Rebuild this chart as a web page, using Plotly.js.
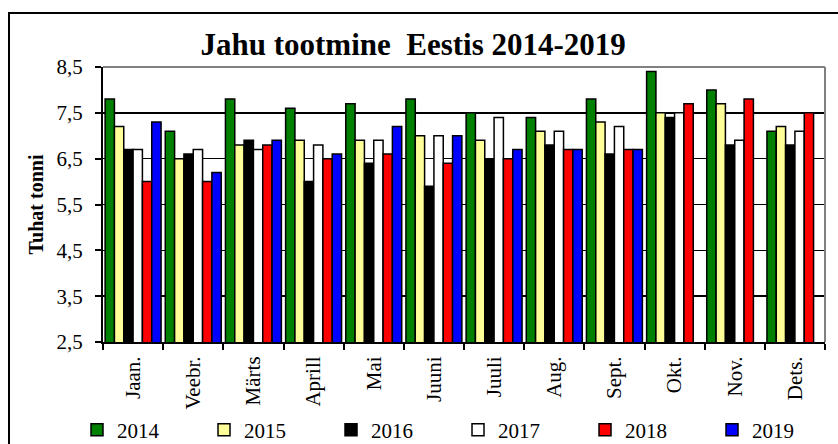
<!DOCTYPE html>
<html><head><meta charset="utf-8">
<script src="https://cdn.plot.ly/plotly-3.0.1.min.js"></script>
<style>
body{margin:0;background:#fff;}
#chart{position:absolute;left:0;top:0;width:838px;height:444px;}
#frame{position:absolute;left:8px;top:12px;width:840px;height:440px;border:2px solid #000;pointer-events:none;}
</style></head>
<body>
<div id="chart"></div>
<div id="frame"></div>
<script>
const months = ["Jaan.","Veebr.","Märts","Aprill","Mai","Juuni","Juuli","Aug.","Sept.","Okt.","Nov.","Dets."];
const years = ["2014","2015","2016","2017","2018","2019"];
const y2014 = [7.8,7.1,7.8,7.6,7.7,7.8,7.5,7.4,7.8,8.4,8.0,7.1];
const y2015 = [7.2,6.5,6.8,6.9,6.9,7.0,6.9,7.1,7.3,7.5,7.7,7.2];
const y2016 = [6.7,6.6,6.9,6.0,6.4,5.9,6.5,6.8,6.6,7.4,6.8,6.8];
const y2017 = [6.7,6.7,6.7,6.8,6.9,7.0,7.4,7.1,7.2,7.5,6.9,7.1];
const y2018 = [6.0,6.0,6.8,6.5,6.6,6.4,6.5,6.7,6.7,7.7,7.8,7.5];
const y2019 = [7.3,6.2,6.9,6.6,7.2,7.0,6.7,6.7,6.7,null,null,null];
const colors = ["#008000","#FFFF99","#000000","#FFFFFF","#FF0000","#0000FF"];
const series = [y2014,y2015,y2016,y2017,y2018,y2019];
const font = "Liberation Serif, Times New Roman, serif";

const traces = series.map((vals,i)=>({
  type:"bar", name:years[i], x:months, y:vals,
  marker:{color:colors[i], line:{color:"#000", width:1.5}}
}));

const layout = {
  width:838, height:444,
  margin:{l:103, r:13, t:67, b:102, autoexpand:false},
  paper_bgcolor:"rgba(0,0,0,0)", plot_bgcolor:"#fff",
  separators:",.",
  font:{family:font, color:"#000", size:21},
  bargap:0.07, bargroupgap:0,
  title:{text:"<b>Jahu tootmine  Eestis 2014-2019</b>", font:{family:font, size:31, color:"#000"},
         x:0.493, xanchor:"center", y:0.9, yanchor:"middle", xref:"container", yref:"container"},
  xaxis:{type:"category", showline:true, linecolor:"#000", linewidth:2, ticks:"outside", tickson:"boundaries",
         ticklen:6, tickwidth:2, tickcolor:"#000", tickangle:-90, tickfont:{family:font,size:21}, automargin:false,
         showgrid:false, ticklabelstandoff:4},
  yaxis:{range:[2.5,8.5], tick0:2.5, dtick:1, tickformat:".1f", showline:true, linecolor:"#000", linewidth:2,
         ticks:"outside", ticklen:6, tickwidth:2, tickcolor:"#000", tickfont:{family:font,size:21},
         showgrid:true, gridcolor:"#000", gridwidth:1.5, zeroline:false, automargin:false, ticklabelstandoff:8,
         title:{text:"<b>Tuhat tonni</b>", font:{family:font,size:20}, standoff:8}},
  shapes:[
    {type:"line", xref:"paper", yref:"paper", x0:0, x1:1, y0:1, y1:1, line:{color:"#808080", width:2}, layer:"above"},
    {type:"line", xref:"paper", yref:"paper", x0:1, x1:1, y0:0, y1:1, line:{color:"#808080", width:2}, layer:"above"}
  ],
  legend:{orientation:"h", x:-0.036, xanchor:"left", y:-0.32, yanchor:"middle", font:{family:font,size:21},
          entrywidth:82, entrywidthmode:"pixels", itemwidth:30, bgcolor:"rgba(0,0,0,0)", traceorder:"normal"},
  showlegend:true
};
Plotly.newPlot("chart", traces, layout, {displayModeBar:false, staticPlot:true});
</script>
</body></html>
